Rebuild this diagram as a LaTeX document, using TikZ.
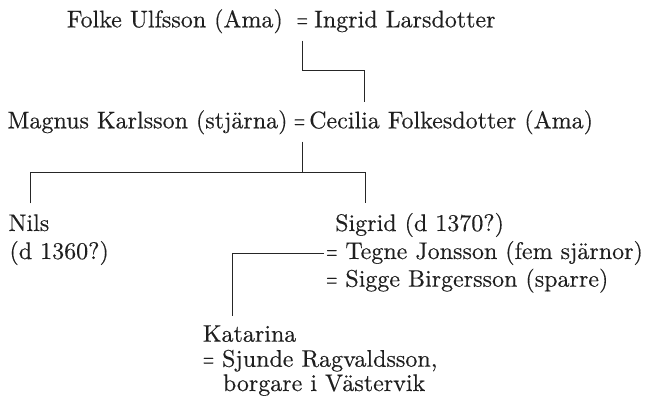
\documentclass[tikz,border=0pt]{standalone}
\usepackage{fontspec}
\usepackage{graphicx}
\setmainfont{lmroman10-regular}[Extension=.otf,FakeBold=0.35]
\newcommand\eqsign{\scalebox{0.6}[1]{=}}
\begin{document}
\begin{tikzpicture}[x=1pt,y=1pt,
  txt/.style={anchor=base west,inner sep=0pt,font=\fontsize{24}{28}\selectfont,text=black!88},
  eqs/.style={txt,anchor=base},
  conn/.style={draw=black!85,line width=0.9pt}]
\useasboundingbox (0,0) rectangle (660,407);
% generation 1
\node[txt] (folke) at (66.7,379.7) {Folke Ulfsson (Ama)};
\node[eqs] (eq1) at (302.3,379.7) {\eqsign};
\node[txt] (ingrid) at (314,379.7) {Ingrid Larsdotter};
% generation 2
\node[txt] (magnus) at (7.3,278.7) {Magnus Karlsson (stjärna)};
\node[eqs] (eq2) at (299.5,278.7) {\eqsign};
\node[txt] (cecilia) at (309,278.7) {Cecilia Folkesdotter (Ama)};
% generation 3
\node[txt] (nils) at (8.3,176) {Nils};
\node[txt] (nilsd) at (9.3,148) {(d 1360?)};
\node[txt] (sig) at (335,176) {Sigrid (d 1370?)};
\node[txt] (teg) at (326,148) {\eqsign{} Tegne Jonsson (fem sjärnor)};
\node[txt] (sigge) at (326,120.3) {\eqsign{} Sigge Birgersson (sparre)};
% generation 4
\node[txt] (kat) at (202.7,65.3) {Katarina};
\node[txt] (sju) at (202.7,40.3) {\eqsign{} Sjunde Ragvaldsson,};
\node[txt] (bor) at (222.7,16) {borgare i Västervik};
% connector points
\coordinate (a1) at (302.3,366.3);
\coordinate (a2) at (364.5,305.3);
\coordinate (b1) at (302.3,265.3);
\coordinate (bj) at (302.3,234.7);
\coordinate (bl) at (30.7,203.7);
\coordinate (br) at (365,203.7);
\coordinate (c1) at (324,153.7);
\coordinate (c2) at (232.7,91);
% connectors
\draw[conn] (a1) -- (302.3,336.3) -| (a2);
\draw[conn] (b1) -- (bj);
\draw[conn] (bl) |- (bj) -| (br);
\draw[conn] (c1) -| (c2);
\end{tikzpicture}
\end{document}
